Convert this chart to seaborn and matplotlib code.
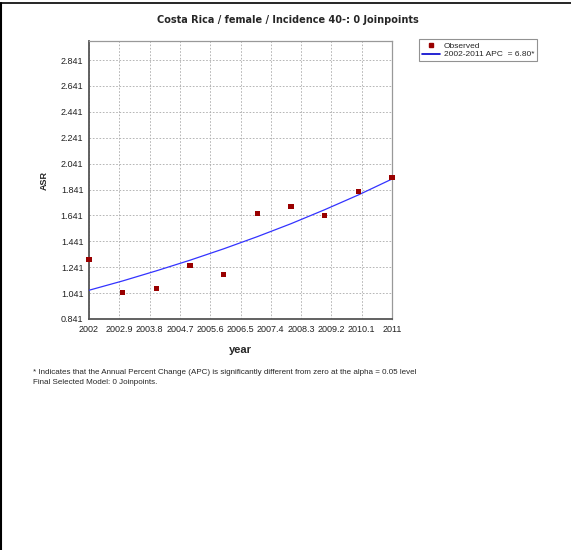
import numpy as np
import pandas as pd
import matplotlib
matplotlib.use('Agg')
import matplotlib.pyplot as plt
import seaborn as sns
from matplotlib.lines import Line2D

# observed ASR values per year
years = [2002, 2003, 2004, 2005, 2006, 2007, 2008, 2009, 2010, 2011]
observed = [1.304, 1.042, 1.080, 1.253, 1.181, 1.652, 1.708, 1.644, 1.827, 1.935]
# fitted joinpoint model
fitted = [1.063, 1.135, 1.213, 1.295, 1.383, 1.477, 1.577, 1.685, 1.799, 1.922]

xticks = [2002, 2002.9, 2003.8, 2004.7, 2005.6, 2006.5, 2007.4, 2008.3, 2009.2, 2010.1, 2011]
xtick_labels = ['2002', '2002.9', '2003.8', '2004.7', '2005.6', '2006.5', '2007.4', '2008.3', '2009.2', '2010.1', '2011']
yticks = [0.841, 1.041, 1.241, 1.441, 1.641, 1.841, 2.041, 2.241, 2.441, 2.641, 2.841]
ytick_labels = ['0.841', '1.041', '1.241', '1.441', '1.641', '1.841', '2.041', '2.241', '2.441', '2.641', '2.841']

df = pd.DataFrame({'year': years, 'observed': observed, 'fitted': fitted})

sns.set_style('white')
plt.rcParams['font.family'] = ['Liberation Sans', 'DejaVu Sans']

fig = plt.figure(figsize=(5.71, 5.5), dpi=100)
ax = fig.add_axes([89 / 571, 1 - 319 / 550, (392 - 89) / 571, (319 - 41) / 550])

sns.lineplot(data=df, x='year', y='fitted', ax=ax, color='#3333ff', linewidth=0.9,
             zorder=3, legend=False)
sns.scatterplot(data=df, x='year', y='observed', ax=ax, color='#990000', marker='s',
                s=13, edgecolor='none', zorder=4, legend=False, clip_on=False)

ax.set_xlim(2002, 2011)
ax.set_ylim(0.841, 2.988)
ax.set_xticks(xticks)
ax.set_xticklabels(xtick_labels)
ax.set_yticks(yticks)
ax.set_yticklabels(ytick_labels)
ax.tick_params(axis='both', length=0, labelsize=6.5, colors='#222222', pad=4)
ax.grid(True, color='#aaaaaa', linestyle=(0, (2, 2)), linewidth=0.6)

for side in ['left', 'bottom']:
    ax.spines[side].set_color('#555555')
    ax.spines[side].set_linewidth(1.3)
for side in ['top', 'right']:
    ax.spines[side].set_color('#999999')
    ax.spines[side].set_linewidth(0.9)

ax.set_xlabel('year', fontsize=8, fontweight='bold', labelpad=8)
ax.set_ylabel('ASR', fontsize=6.5, fontweight='bold', labelpad=9)

fig.text(288 / 571, 1 - 20 / 550, 'Costa Rica / female / Incidence 40-: 0 Joinpoints',
         ha='center', va='center', fontsize=7, fontweight='bold',
         family=['DejaVu Sans'])

handles = [
    Line2D([], [], color='#990000', marker='s', linestyle='none', markersize=3),
    Line2D([], [], color='#0000cc', linewidth=1.2),
]
leg = fig.legend(handles, ['Observed', '2002-2011 APC  = 6.80*'],
                 loc='upper left', bbox_to_anchor=(419 / 571, 1 - 39 / 550),
                 fontsize=6, frameon=True, fancybox=False, handlelength=2.2,
                 handletextpad=0.4, borderpad=0.35, labelspacing=0.1,
                 borderaxespad=0)
leg.get_frame().set_edgecolor('#777777')
leg.get_frame().set_linewidth(0.8)

fig.text(33 / 571, 1 - 373 / 550,
         '* Indicates that the Annual Percent Change (APC) is significantly different from zero at the alpha = 0.05 level',
         ha='left', va='center', fontsize=5.8)
fig.text(33 / 571, 1 - 382 / 550, 'Final Selected Model: 0 Joinpoints.',
         ha='left', va='center', fontsize=5.8)

# outer frame lines of the original screenshot
fig.add_artist(Line2D([0, 1], [1 - 3 / 550, 1 - 3 / 550], color='black', linewidth=1.2,
                      transform=fig.transFigure))
fig.add_artist(Line2D([0.8 / 571, 0.8 / 571], [0, 1 - 3 / 550], color='black', linewidth=1.5,
                      transform=fig.transFigure))

fig.savefig('out.png', dpi=100)
plt.close(fig)
